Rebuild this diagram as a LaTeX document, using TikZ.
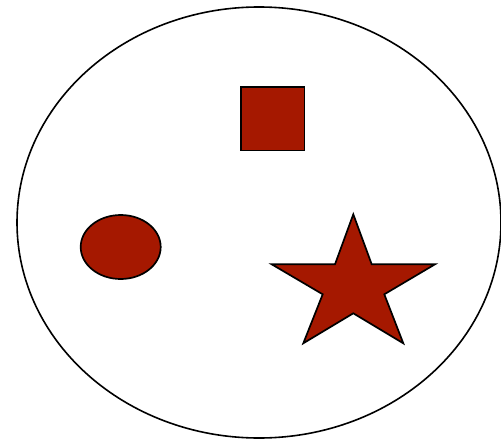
\documentclass[tikz,border=0pt]{standalone}
\usepackage{tikz}
\usetikzlibrary{shapes}

\definecolor{sternrot}{RGB}{165,24,0}

\begin{document}
\begin{tikzpicture}[x=1pt, y=-1pt, line join=miter]

    % --- 1. PARAMETER ---
    \def\lw{1.7pt}
    \tikzset{figur/.style={fill=sternrot, draw=black, line width=\lw}}

    \useasboundingbox (0,0) rectangle (501,439);

    % --- 2. GROSSE ELLIPSE ---
    \draw[line width=1.6pt] (259,222.5) ellipse [x radius=242, y radius=215.5];

    % --- 3. QUADRAT ---
    \draw[figur] (241,87.3) rectangle (304.5,150.5);

    % --- 4. KLEINE ELLIPSE ---
    \draw[figur] (120.7,247) ellipse [x radius=40, y radius=32];

    % --- 5. STERN ---
    \draw[figur] (353.3,214.3) -- (371.7,264.3) -- (435,264.3) -- (384.3,294.3)
        -- (403.3,343.3) -- (353.3,313.3) -- (303.3,343.3) -- (322.7,294.3)
        -- (271.7,264.3) -- (335,264.3) -- cycle;

\end{tikzpicture}
\end{document}
